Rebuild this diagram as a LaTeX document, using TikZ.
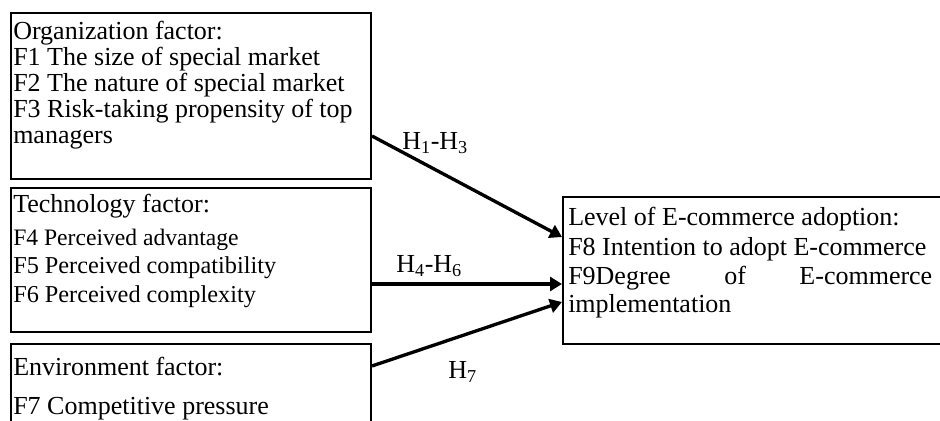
\documentclass[tikz,border=0pt]{standalone}
\usepackage{fontspec}
\setmainfont{Liberation Serif}
\usetikzlibrary{arrows.meta,fit,calc}
\begin{document}
\begin{tikzpicture}[x=0.75pt,y=-0.75pt,
  box/.style={draw,line width=1.5pt,inner sep=0pt},
  txt/.style={anchor=base west,inner sep=0pt,font=\fontsize{19.5}{23}\selectfont},
  smalltxt/.style={anchor=base west,inner sep=0pt,font=\fontsize{18.2}{22}\selectfont},
  arr/.style={line width=2.5pt,-{Triangle[length=9pt,width=10.5pt]}}]
\clip (0,0) rectangle (940,421);
\fill[white] (0,0) rectangle (940,421);
% boxes
\node[box,fit={(11,13) (371,179)}] (org) {};
\node[box,fit={(11,188) (371,332)}] (tec) {};
\node[box,fit={(11,344) (371,445)}] (env) {};
\node[box,fit={(563,197) (960,344)}] (lvl) {};
% organization text
\node[txt] (o1) at (13,39) {Organization factor:};
\node[txt] (o2) at (13,65) {F1 The size of special market};
\node[txt] (o3) at (13,91) {F2 The nature of special market};
\node[txt] (o4) at (13,117) {F3 Risk-taking propensity of top};
\node[txt] (o5) at (13,143) {managers};
% technology text
\node[txt] (t1) at (13,212) {Technology factor:};
\node[smalltxt,font=\fontsize{17.7}{22}\selectfont] (t2) at (13,245) {F4 Perceived advantage};
\node[smalltxt] (t3) at (13,273) {F5 Perceived compatibility};
\node[smalltxt] (t4) at (13,302) {F6 Perceived complexity};
% environment text
\node[txt] (e1) at (13,375) {Environment factor:};
\node[txt] (e2) at (13,414) {F7 Competitive pressure};
% level text
\node[txt] (l1) at (568,225) {Level of E-commerce adoption:};
\node[txt] (l2) at (568,255) {F8 Intention to adopt E-commerce};
\node[txt] (l3) at (568,284) {\hbox to 273pt{F9Degree\hfill of\hfill E-commerce}};
\node[txt] (l4) at (568,312) {implementation};
% connectors
\coordinate (a1) at ($(org.north east)+(0,124)$);
\coordinate (b1) at ($(lvl.north west)+(0,41)$);
\coordinate (a2) at ($(tec.north east)+(0,97)$);
\coordinate (b2) at ($(lvl.north west)+(0,88)$);
\coordinate (a3) at ($(env.north east)+(0,23)$);
\coordinate (b3) at ($(lvl.north west)+(0,106)$);
\draw[arr] (a1) -- (b1);
\draw[arr] (a2) -- (b2);
\draw[arr] (a3) -- (b3);
% labels
\node[txt] (h1) at (402,149) {H\textsubscript{1}-H\textsubscript{3}};
\node[txt] (h2) at (396,272) {H\textsubscript{4}-H\textsubscript{6}};
\node[txt] (h3) at (448,378) {H\textsubscript{7}};
\end{tikzpicture}
\end{document}
